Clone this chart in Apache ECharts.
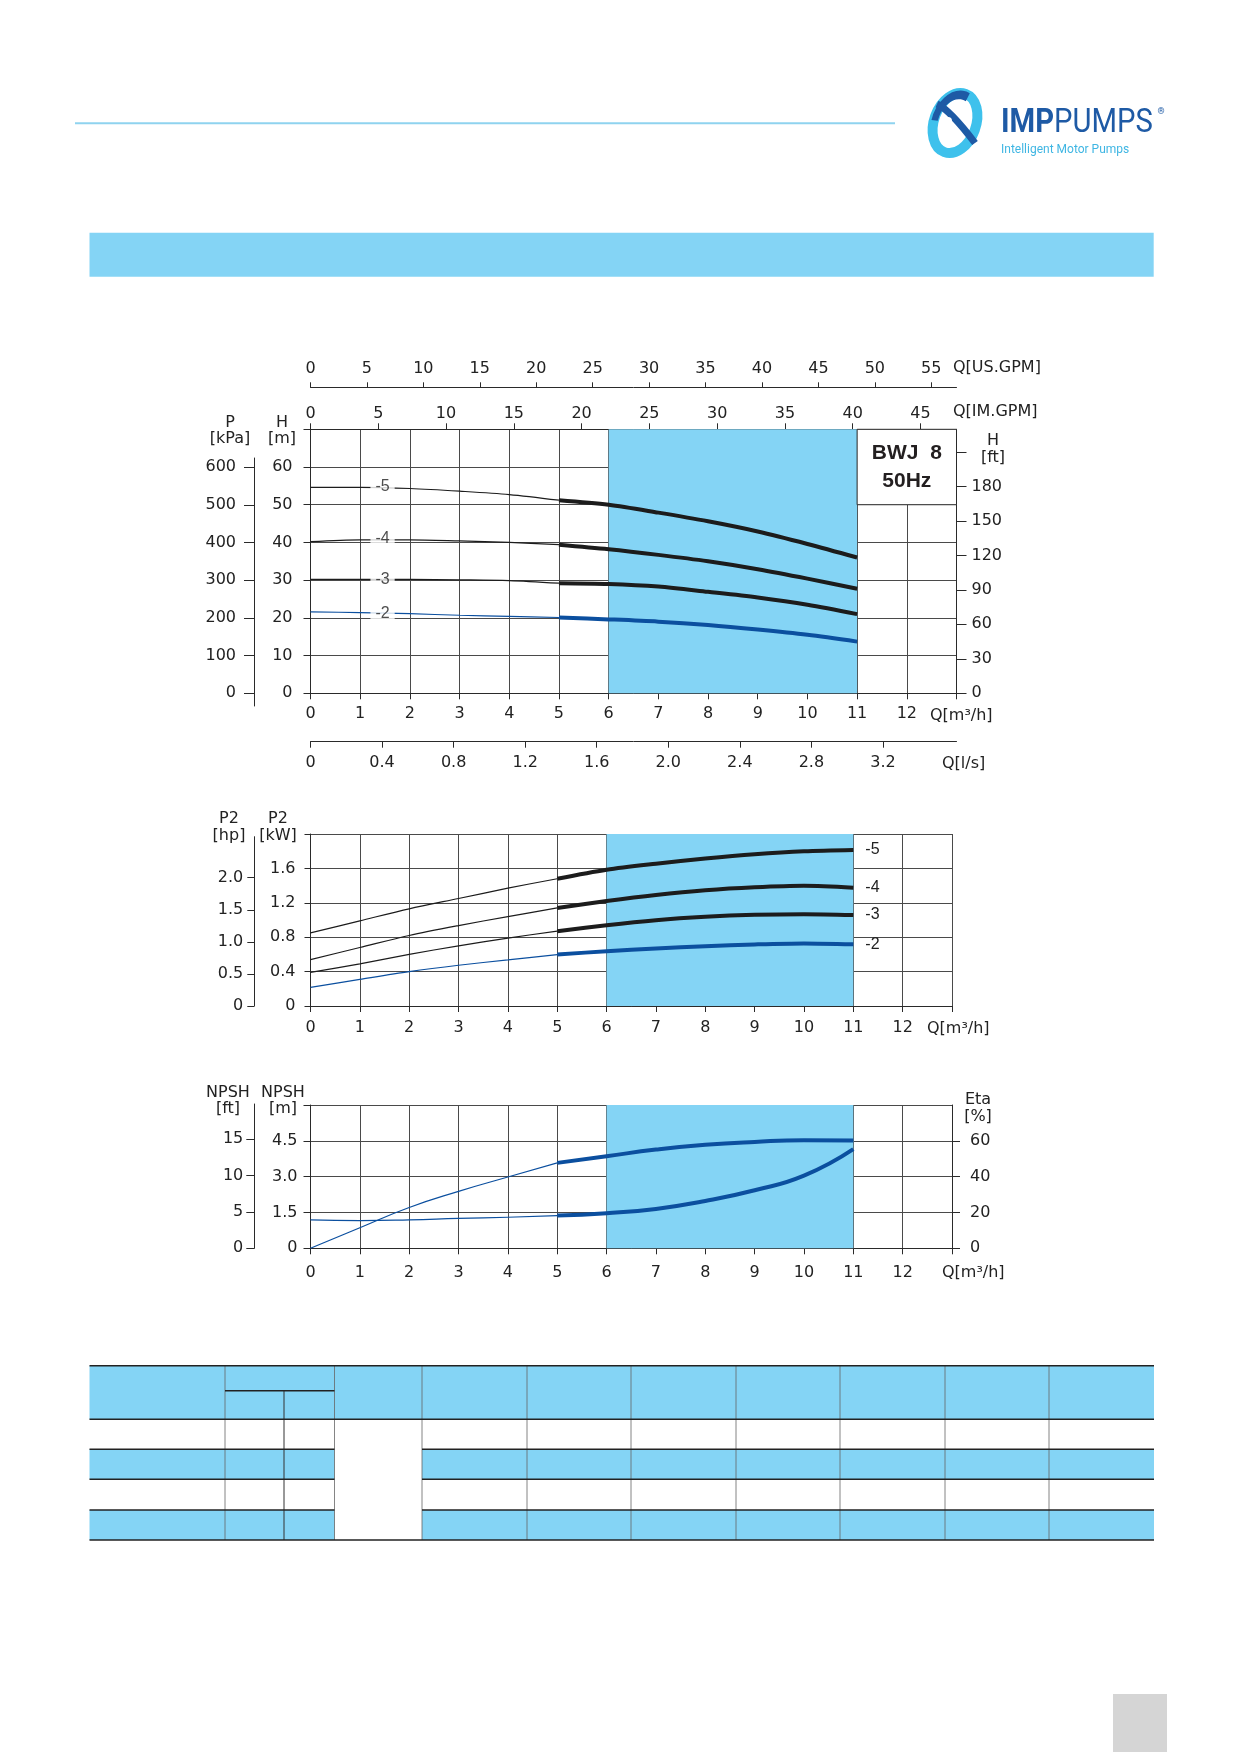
<!DOCTYPE html>
<html><head><meta charset="utf-8">
<script src="https://cdn.jsdelivr.net/npm/echarts@6.0.0/dist/echarts.min.js"></script>
<style>html,body{margin:0;padding:0;background:#fff}#c{width:1239px;height:1752px}</style>
</head><body><div id="c"></div>
<script>
// ---------------- data ----------------
const Q = [0,1,2,3,4,5,6,7,8,9,10,11];                 // m3/h
const curveNames = ['-5','-4','-3','-2'];
const headM5 = [54.6,54.6,54.3,53.6,52.7,51.2,50.0,47.9,45.6,42.9,39.6,36.0];
const headM4 = [40.2,40.7,40.7,40.4,40.0,39.4,38.2,36.7,35.0,32.9,30.4,27.7];
const headM3 = [30.2,30.2,30.2,30.1,29.9,29.2,29.0,28.3,26.9,25.4,23.5,21.0];
const headM2 = [21.6,21.4,21.1,20.7,20.4,20.1,19.6,19.0,18.1,16.9,15.5,13.7];
const powerKW5 = [0.85,0.99,1.13,1.25,1.37,1.48,1.585,1.655,1.715,1.765,1.80,1.815];
const powerKW4 = [0.54,0.68,0.82,0.935,1.04,1.14,1.22,1.29,1.345,1.38,1.398,1.376];
const powerKW3 = [0.39,0.49,0.60,0.70,0.79,0.87,0.94,0.998,1.037,1.06,1.068,1.058];
const powerKW2 = [0.217,0.31,0.40,0.474,0.536,0.598,0.637,0.668,0.695,0.716,0.728,0.717];
const npshM = [1.19,1.16,1.19,1.25,1.30,1.37,1.47,1.65,1.98,2.43,3.04,4.15];
const etaPct = [0,11.5,22.8,31.8,39.8,47.7,51.4,55.1,57.8,59.4,60.3,60.2];
const curveLabelQ = [1.45,1.45,1.45,1.45];
const curveLabelH = [54.8,41.0,30.1,21.2];
const bandQ = [6,11];
const modelBoxQ = [11,13];
const modelBoxH = [50,70];
const modelText = 'BWJ  8\n50Hz';
// tick labels
const qTicks = [0,1,2,3,4,5,6,7,8,9,10,11,12];
const imGpmTicks = [0,5,10,15,20,25,30,35,40,45];
const usGpmTicks = [0,5,10,15,20,25,30,35,40,45,50,55];
const lsTicks = [0,0.4,0.8,1.2,1.6,2.0,2.4,2.8,3.2];
const hmTicks = [0,10,20,30,40,50,60];
const kpaTicks = [0,100,200,300,400,500,600];
const ftTicks = [0,30,60,90,120,150,180,210];
const ftLabels = [0,30,60,90,120,150,180];
const kwTicks = [0,0.4,0.8,1.2,1.6];
const hpTicks = [0,0.5,1.0,1.5,2.0];
const npshMTicks = [0,1.5,3.0,4.5];
const npshFtTicks = [0,5,10,15];
const etaTicks = [0,20,40,60];
// unit conversions
const US_GPM = 4.40287, IM_GPM = 3.66615, LPS = 1/3.6, FT = 3.28084, HP = 0.7457;

// ---------------- style ----------------
const BLUE_BAND = '#84d4f5';
const CURVE_BLACK = '#1c1c1c';
const CURVE_BLUE = '#0b4f9f';
const AX = '#2a2a2a';
const GRIDC = '#4a4a4a';
const FF = '"DejaVu Sans", Verdana, sans-serif';
const FS = 16;
const ARIAL = '"Liberation Sans", Arial, sans-serif';
const lab = {fontFamily: FF, fontSize: FS, color: '#222'};
const curveColors = [CURVE_BLACK, CURVE_BLACK, CURVE_BLACK, CURVE_BLUE];

function seg(arr, from, to) { return Q.slice(from, to + 1).map((q, i) => [q, arr[from + i]]); }
function fmt1(v) { return v === 0 ? '0' : v.toFixed(1); }

const grids = [
  {left: 310.5, top: 429.3, width: 646, height: 264},
  {left: 310.5, top: 834, width: 641.5, height: 172},
  {left: 310.5, top: 1105, width: 641.5, height: 143.3},
  {left: 254, top: 458, width: 20, height: 248},
  {left: 254.3, top: 836.7, width: 20, height: 169.3},
  {left: 254.3, top: 1104, width: 20, height: 144.3}
];

function qAxis(gi, margin) {
  return {gridIndex: gi, type: 'value', position: 'bottom', min: 0, max: 13, interval: 1,
    axisLine: {show: true, onZero: false, lineStyle: {color: AX, width: 1}},
    axisTick: {show: true, length: 6, lineStyle: {color: AX}},
    axisLabel: Object.assign({}, lab, {margin: margin, customValues: qTicks}),
    splitLine: {show: true, lineStyle: {color: GRIDC, width: 1}}};
}
function extraAxis(gi, pos, max, ticks, labels, tickLen, margin, offset, formatter) {
  const a = {gridIndex: gi, type: 'value', position: pos, min: 0, max: max, offset: offset || 0,
    axisLine: {show: true, onZero: false, lineStyle: {color: AX, width: 1}},
    axisTick: {show: true, length: tickLen, customValues: ticks, lineStyle: {color: AX}},
    axisLabel: Object.assign({}, lab, {margin: margin, customValues: labels}),
    splitLine: {show: false}};
  if (formatter) a.axisLabel.formatter = formatter;
  return a;
}

const xAxis = [
  qAxis(0, 13),
  extraAxis(0, 'top', 13 * IM_GPM, imGpmTicks, imGpmTicks, 6, 7, 0),
  extraAxis(0, 'top', 13 * US_GPM, usGpmTicks, usGpmTicks, 5, 10, 42),
  extraAxis(0, 'bottom', 13 * LPS, lsTicks, lsTicks, 6, 13, 48.4, fmt1),
  qAxis(1, 14),
  qAxis(2, 17),
  {gridIndex: 3, type: 'value', show: false},
  {gridIndex: 4, type: 'value', show: false},
  {gridIndex: 5, type: 'value', show: false}
];

function mainY(gi, max, interval, labels, tickLen, margin, formatter) {
  const a = {gridIndex: gi, type: 'value', position: 'left', min: 0, max: max, interval: interval,
    axisLine: {show: true, onZero: false, lineStyle: {color: AX, width: 1}},
    axisTick: {show: true, length: tickLen, lineStyle: {color: AX}},
    axisLabel: Object.assign({}, lab, {margin: margin, customValues: labels}),
    splitLine: {show: true, lineStyle: {color: GRIDC, width: 1}}};
  if (formatter) a.axisLabel.formatter = formatter;
  return a;
}
function sideY(gi, pos, min, max, ticks, labels, tickLen, margin, formatter) {
  const a = {gridIndex: gi, type: 'value', position: pos, min: min, max: max,
    axisLine: {show: true, onZero: false, lineStyle: {color: AX, width: 1}},
    axisTick: {show: true, length: tickLen, customValues: ticks, lineStyle: {color: AX}},
    axisLabel: Object.assign({}, lab, {margin: margin, customValues: labels}),
    splitLine: {show: false}};
  if (formatter) a.axisLabel.formatter = formatter;
  return a;
}

const yAxis = [
  mainY(0, 70, 10, hmTicks, 7, 18),
  sideY(0, 'right', 0, 70 * FT, ftTicks, ftLabels, 10, 15),
  mainY(1, 2.0, 0.4, kwTicks, 6, 15, fmt1),
  mainY(2, 6, 1.5, npshMTicks, 7, 13, fmt1),
  sideY(2, 'right', 0, 80, etaTicks, etaTicks, 8, 18),
  sideY(3, 'left', -33.7, 624.7, kpaTicks, kpaTicks, 10, 18),
  sideY(4, 'left', 0, 2.640, hpTicks, hpTicks, 7, 11, fmt1),
  sideY(5, 'left', 0, 19.84, npshFtTicks, npshFtTicks, 8, 11)
];

const series = [];
// blue operating bands (under grid lines)
[[0, 0, 70], [4, 2, 2], [5, 3, 6]].forEach(([xi, yi, ymax]) => {
  series.push({type: 'line', xAxisIndex: xi, yAxisIndex: yi, data: [], z: -1, silent: true,
    markArea: {silent: true, itemStyle: {color: BLUE_BAND}, label: {show: false},
      data: [[{xAxis: bandQ[0], yAxis: 0}, {xAxis: bandQ[1], yAxis: ymax}]]}});
});
// model box
series.push({type: 'line', xAxisIndex: 0, yAxisIndex: 0, data: [], z: 5, silent: true,
  markArea: {silent: true,
    itemStyle: {color: '#fff', borderColor: AX, borderWidth: 1},
    label: {show: true, position: 'inside', formatter: modelText, fontFamily: ARIAL,
      fontWeight: 'bold', fontSize: 21, lineHeight: 28, color: '#231f20'},
    data: [[{xAxis: modelBoxQ[0], yAxis: modelBoxH[0]}, {xAxis: modelBoxQ[1], yAxis: modelBoxH[1]}]]}});

// H curves
[headM5, headM4, headM3, headM2].forEach((arr, i) => {
  const c = curveColors[i];
  series.push({type: 'line', xAxisIndex: 0, yAxisIndex: 0, data: seg(arr, 0, 5), smooth: 0.3, symbol: 'none',
    lineStyle: {color: c, width: 1.2}, z: 3, silent: true});
  series.push({type: 'line', xAxisIndex: 0, yAxisIndex: 0, data: seg(arr, 5, 11), smooth: 0.3, symbol: 'none',
    lineStyle: {color: c, width: 4}, z: 3, silent: true});
});
// curve labels on H chart
series.push({type: 'scatter', xAxisIndex: 0, yAxisIndex: 0, symbolSize: 1, z: 6, silent: true,
  itemStyle: {color: '#fff'},
  data: curveNames.map((n, i) => [curveLabelQ[i], curveLabelH[i], n]),
  label: {show: true, position: 'inside', formatter: p => p.value[2], backgroundColor: '#fff', padding: [1, 5],
    fontFamily: ARIAL, fontSize: 16, color: '#222'}});

// P2 curves
[powerKW5, powerKW4, powerKW3, powerKW2].forEach((arr, i) => {
  const c = curveColors[i];
  series.push({type: 'line', xAxisIndex: 4, yAxisIndex: 2, data: seg(arr, 0, 5), smooth: 0.3, symbol: 'none',
    lineStyle: {color: c, width: 1.2}, z: 3, silent: true});
  series.push({type: 'line', xAxisIndex: 4, yAxisIndex: 2, data: seg(arr, 5, 11), smooth: 0.3, symbol: 'none',
    lineStyle: {color: c, width: 4}, z: 3, silent: true,
    endLabel: {show: true, formatter: curveNames[i], distance: 12, fontFamily: ARIAL,
      fontSize: 16, color: '#222'}});
});

// NPSH and Eta
series.push({type: 'line', xAxisIndex: 5, yAxisIndex: 3, data: seg(npshM, 0, 5), smooth: 0.5, symbol: 'none',
  lineStyle: {color: CURVE_BLUE, width: 1.2}, z: 3, silent: true});
series.push({type: 'line', xAxisIndex: 5, yAxisIndex: 3, data: seg(npshM, 5, 11), smooth: 0.5, symbol: 'none',
  lineStyle: {color: CURVE_BLUE, width: 4}, z: 3, silent: true});
series.push({type: 'line', xAxisIndex: 5, yAxisIndex: 4, data: seg(etaPct, 0, 5), smooth: 0.5, symbol: 'none',
  lineStyle: {color: CURVE_BLUE, width: 1.2}, z: 3, silent: true});
series.push({type: 'line', xAxisIndex: 5, yAxisIndex: 4, data: seg(etaPct, 5, 11), smooth: 0.5, symbol: 'none',
  lineStyle: {color: CURVE_BLUE, width: 4}, z: 3, silent: true});

// ---------------- page graphics ----------------
function T(text, x, y, opt) {
  return {type: 'text', x: x, y: y, silent: true,
    style: Object.assign({text: text, fill: '#222', font: FS + 'px "DejaVu Sans", Verdana, sans-serif',
      align: 'center', verticalAlign: 'middle', textAlign: 'center', textVerticalAlign: 'middle'}, opt || {})};
}
const L = {align: 'left', textAlign: 'left'};
const graphic = [];
// header line
graphic.push({type: 'line', silent: true, shape: {x1: 75, y1: 123.3, x2: 895, y2: 123.3}, style: {stroke: '#8fd3ef', lineWidth: 2}});
// logo icon
graphic.push({type: 'ellipse', silent: true, x: 955, y: 123, rotation: -0.35,
  shape: {cx: 0, cy: 0, rx: 21, ry: 31}, style: {fill: 'none', stroke: '#3ec1ec', lineWidth: 10}});
graphic.push({type: 'arc', silent: true, x: 955, y: 123, rotation: -0.35, scaleX: 0.7,
  shape: {cx: 0, cy: 0, r: 29, startAngle: Math.PI * 0.95, endAngle: Math.PI * 1.55}, style: {fill: 'none', stroke: '#1e5aa5', lineWidth: 9}});
graphic.push({type: 'bezierCurve', silent: true,
  shape: {x1: 937, y1: 104, cpx1: 950, cpy1: 110, x2: 975, y2: 143}, style: {fill: 'none', stroke: '#1e5aa5', lineWidth: 7}});
graphic.push({type: 'circle', silent: true, shape: {cx: 948, cy: 121, r: 4}, style: {fill: '#fff'}});
graphic.push({type: 'text', silent: true, x: 1001, y: 123, scaleX: 0.86,
  style: {text: '{a|IMP}{b|PUMPS}', x: 0, y: 0, align: 'left', verticalAlign: 'middle', textAlign: 'left', textVerticalAlign: 'middle',
    rich: {a: {fontFamily: 'Roboto, sans-serif', fontWeight: 'bold', fontSize: 34, fill: '#1e5aa5', color: '#1e5aa5'},
           b: {fontFamily: 'Roboto, sans-serif', fontWeight: 'normal', fontSize: 34, fill: '#1e5aa5', color: '#1e5aa5'}}}});
graphic.push(T('®', 1161, 112, {font: '9px Roboto, sans-serif', fill: '#1e5aa5'}));
graphic.push(T('Intelligent Motor Pumps', 1001, 150, Object.assign({font: '12px Roboto, sans-serif', fill: '#3fb6e3'}, L)));
// blue band
graphic.push({type: 'rect', silent: true, shape: {x: 89.5, y: 232.7, width: 1064.2, height: 44}, style: {fill: BLUE_BAND}});

// axis titles
graphic.push(T('Q[US.GPM]', 953, 367.5, L));
graphic.push(T('Q[IM.GPM]', 953, 412, L));
graphic.push(T('P', 230, 423));
graphic.push(T('[kPa]', 230, 439.3));
graphic.push(T('H', 282, 423));
graphic.push(T('[m]', 282, 439.3));
graphic.push(T('H', 993, 440.7));
graphic.push(T('[ft]', 993, 458.3));
graphic.push(T('Q[m³/h]', 930, 716, L));
graphic.push(T('Q[l/s]', 942, 764, L));
graphic.push(T('P2', 229, 819));
graphic.push(T('[hp]', 229, 836));
graphic.push(T('P2', 278, 819));
graphic.push(T('[kW]', 278, 836));
graphic.push(T('Q[m³/h]', 927, 1029, L));
graphic.push(T('NPSH', 228, 1092.7));
graphic.push(T('[ft]', 228, 1109.3));
graphic.push(T('NPSH', 283, 1092.7));
graphic.push(T('[m]', 283, 1109.3));
graphic.push(T('Eta', 978, 1100));
graphic.push(T('[%]', 978, 1117));
graphic.push(T('Q[m³/h]', 942, 1273, L));

// table
const tCols = [89.5, 225, 284, 334.5, 422, 527, 631, 736, 840, 945, 1049, 1154];
const tRows = [1365.7, 1419.3, 1449.3, 1479.3, 1510, 1540];
const tSub = 1390.7;
function R(x, y, w, h, fill) { return {type: 'rect', silent: true, shape: {x: x, y: y, width: w, height: h}, style: {fill: fill}}; }
function Ln(x1, y1, x2, y2, c, w) { return {type: 'line', silent: true, shape: {x1: x1, y1: y1, x2: x2, y2: y2}, style: {stroke: c, lineWidth: w}}; }
graphic.push(R(tCols[0], tRows[0], tCols[11] - tCols[0], tRows[1] - tRows[0], BLUE_BAND));
[[tRows[2], tRows[3]], [tRows[4], tRows[5]]].forEach(([a, b]) => {
  graphic.push(R(tCols[0], a, tCols[3] - tCols[0], b - a, BLUE_BAND));
  graphic.push(R(tCols[4], a, tCols[11] - tCols[4], b - a, BLUE_BAND));
});
for (let i = 1; i < tCols.length - 1; i++) {
  if (i === 2) graphic.push(Ln(tCols[i], tSub, tCols[i], tRows[5], '#333', 1));
  else graphic.push(Ln(tCols[i], tRows[0], tCols[i], tRows[5], '#666', 0.8));
}
[tRows[0], tRows[1], tRows[5]].forEach(y => graphic.push(Ln(tCols[0], y, tCols[11], y, '#222', 1.5)));
[tRows[2], tRows[3], tRows[4]].forEach(y => {
  graphic.push(Ln(tCols[0], y, tCols[3], y, '#222', 1.5));
  graphic.push(Ln(tCols[4], y, tCols[11], y, '#222', 1.5));
});
graphic.push(Ln(tCols[1], tSub, tCols[3], tSub, '#222', 1.5));
// page tab
graphic.push(R(1113, 1694, 54, 58, '#d5d5d5'));

const chart = echarts.init(document.getElementById('c'), null, {renderer: 'canvas'});
chart.setOption({
  animation: false,
  backgroundColor: '#fff',
  textStyle: {fontFamily: FF},
  grid: grids,
  xAxis: xAxis,
  yAxis: yAxis,
  series: series,
  graphic: graphic
});
</script>
</body></html>
